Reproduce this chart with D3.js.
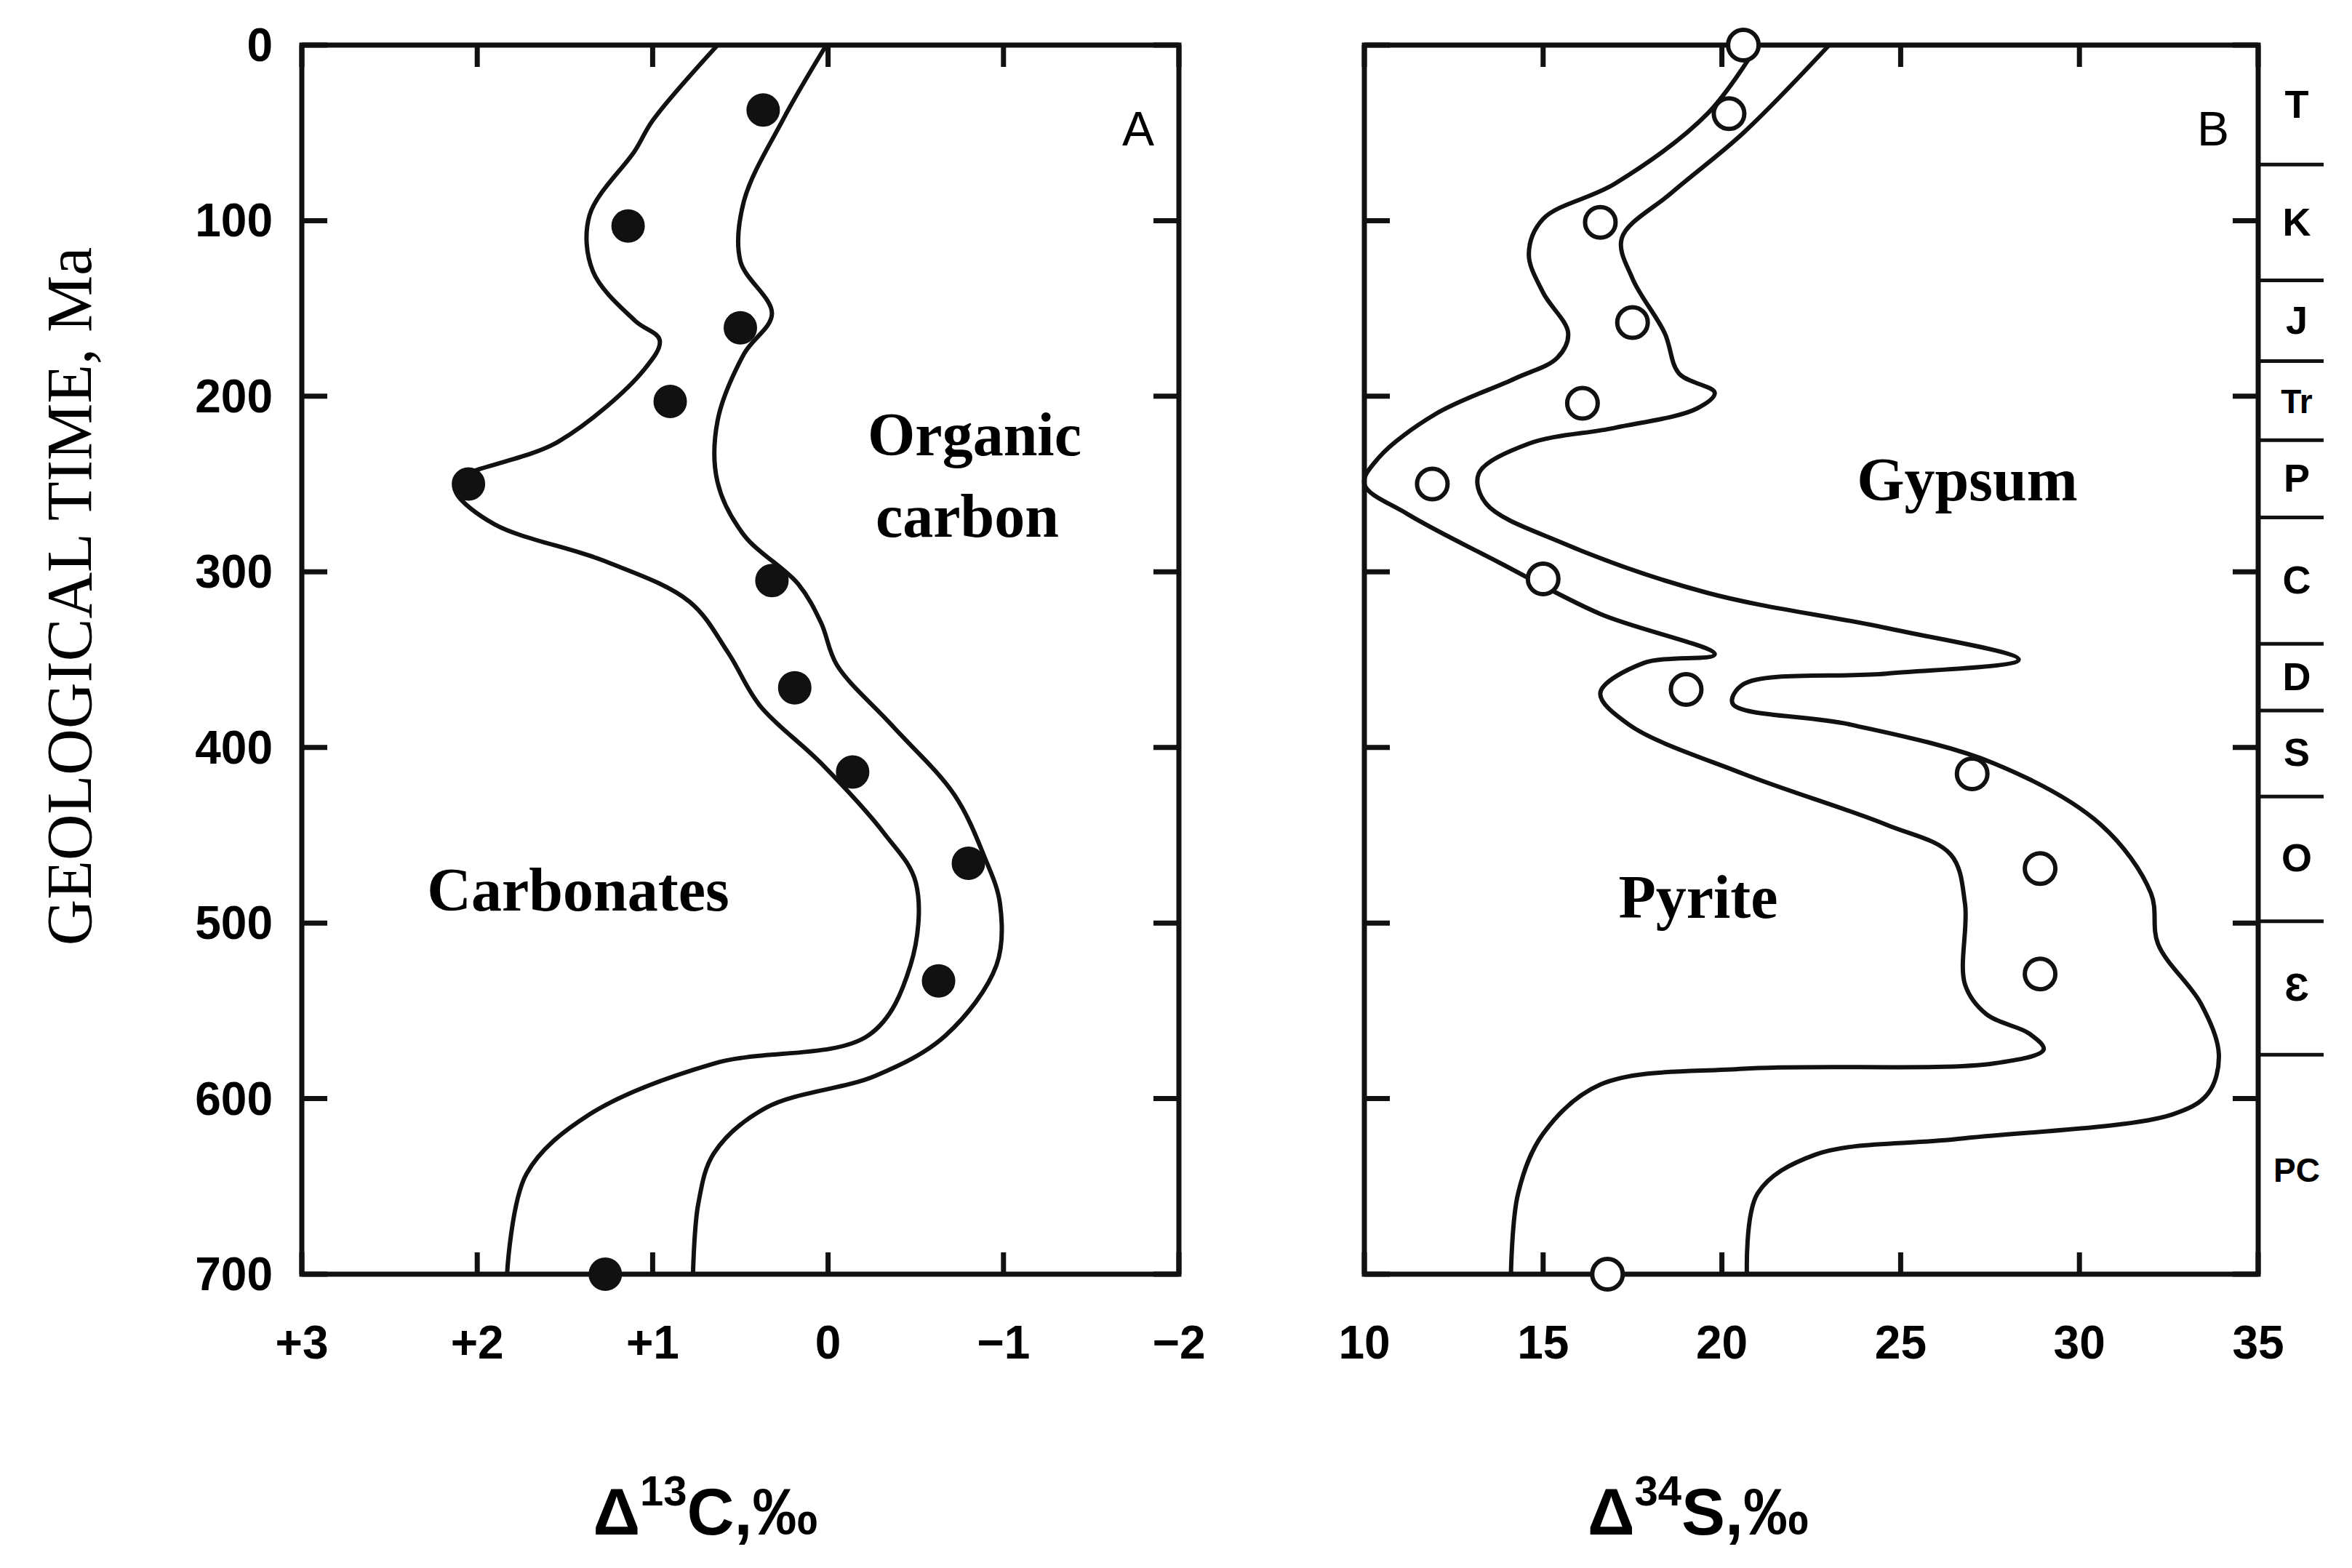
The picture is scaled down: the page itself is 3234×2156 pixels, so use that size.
<!DOCTYPE html>
<html><head><meta charset="utf-8">
<script src="https://cdn.jsdelivr.net/npm/d3@7"></script>
<style>body{margin:0;background:#fff}</style></head>
<body><svg id="c" width="3234" height="2156"></svg>
<script>
// Panel A: Δ13C curves [age Ma, value]
const carbonateCurve=[[0,0.63],[43,1.0],[60,1.10],[97,1.36],[129,1.34],[157,1.10],[168,0.96],[185,1.05],[226,1.54],[248,2.12],[255,2.12],[273,1.9],[294,1.27],[317,0.79],[346,0.57],[376,0.39],[409,0.04],[449,-0.32],[477,-0.5],[524,-0.47],[564,-0.23],[580,0.65],[609,1.36],[643,1.72],[700,1.83]];
const organicCurve=[[0,0.01],[43,0.26],[89,0.48],[123,0.5],[153,0.32],[176,0.48],[214,0.63],[249,0.63],[279,0.48],[307,0.17],[329,0.04],[353,-0.05],[387,-0.36],[427,-0.72],[462,-0.89],[489,-0.98],[524,-0.96],[564,-0.67],[587,-0.27],[605,0.35],[631,0.65],[660,0.74],[700,0.77]];
const carbonDots=[[37,0.37],[103,1.14],[161,0.5],[203,0.9],[250,2.05],[305,0.32],[366,0.19],[414,-0.14],[466,-0.8],[533,-0.63],[700,1.27]];
// Panel B: Δ34S curves
const gypsumCurve=[[0,23.0],[50,20.6],[84,18.6],[110,17.2],[133,17.5],[164,18.4],[187,18.8],[198,19.8],[207,19.3],[218,17.0],[227,14.6],[244,13.2],[261,13.4],[284,15.6],[312,19.6],[332,24.6],[350,28.3],[358,24.6],[364,20.6],[375,20.3],[387,23.6],[409,27.6],[444,30.6],[483,32.0],[512,32.2],[546,33.4],[575,33.9],[597,33.6],[609,32.6],[623,26.6],[632,22.6],[654,21.0],[700,20.7]];
const pyriteCurve=[[0,21.0],[39,19.6],[79,17.0],[99,15.0],[119,14.6],[141,15.0],[164,15.7],[178,15.4],[190,14.2],[210,12.0],[235,10.4],[250,10.0],[267,11.2],[295,13.8],[324,16.6],[347,19.8],[352,17.8],[369,16.6],[387,17.4],[415,20.6],[444,24.6],[461,26.4],[489,26.8],[535,26.8],[552,27.4],[563,28.6],[572,29.0],[580,27.6],[583,20.6],[592,16.6],[620,15.0],[654,14.3],[700,14.1]];
const sulfurDots=[[0,20.6],[39,20.2],[101,16.6],[158,17.5],[204,16.1],[250,11.9],[304,15.0],[367,19.0],[415,27.0],[469,28.9],[529,28.9],[700,16.8]];
const ageTicks=[0,100,200,300,400,500,600,700];
const cTicks=[3,2,1,0,-1,-2];
const cTickLabels=["+3","+2","+1","0","\u22121","\u22122"];
const sTicks=[10,15,20,25,30,35];
const periodBounds=[0,68,134,180,225,269,341,379,428,499,575];
const periodLabels=["T","K","J","Tr","P","C","D","S","O","\u0190","PC"];
const periodMid=[34,101,157,202,247,305,360,403,463,537,640];

const svg=d3.select("#c");
const topY=62,botY=1752;
const y=d3.scaleLinear().domain([0,700]).range([topY,botY]);
const xA=d3.scaleLinear().domain([3,-2]).range([415,1621]);
const xB=d3.scaleLinear().domain([10,35]).range([1876,3105]);
const sans="'Liberation Sans',Arial,sans-serif", serif="'Liberation Serif','Times New Roman',serif";

function panel(x,ticks,labels,curves,dots,filled,letter,lx){
  const [x0,x1]=x.range();
  svg.append("rect").attr("x",x0).attr("y",topY).attr("width",x1-x0).attr("height",botY-topY)
    .attr("fill","none").attr("stroke","#111").attr("stroke-width",7);
  const g=svg.append("g").attr("stroke","#111").attr("stroke-width",7);
  ticks.forEach(t=>{g.append("line").attr("x1",x(t)).attr("x2",x(t)).attr("y1",topY).attr("y2",topY+30);
    g.append("line").attr("x1",x(t)).attr("x2",x(t)).attr("y1",botY).attr("y2",botY-30);});
  ageTicks.forEach(a=>{g.append("line").attr("x1",x0).attr("x2",x0+35).attr("y1",y(a)).attr("y2",y(a));
    g.append("line").attr("x1",x1).attr("x2",x1-35).attr("y1",y(a)).attr("y2",y(a));});
  ticks.forEach((t,i)=>svg.append("text").attr("x",x(t)).attr("y",1868).attr("text-anchor","middle")
    .attr("font-family",sans).attr("font-weight","bold").attr("font-size",64).text(labels[i]));
  const line=d3.line().x(d=>x(d[1])).y(d=>y(d[0])).curve(d3.curveCatmullRom.alpha(0.5));
  curves.forEach(c=>svg.append("path").attr("d",line(c)).attr("fill","none").attr("stroke","#111").attr("stroke-width",6));
  dots.forEach(d=>svg.append("circle").attr("cx",x(d[1])).attr("cy",y(d[0])).attr("r",filled?22:21)
    .attr("fill",filled?"#111":"#fff").attr("stroke","#111").attr("stroke-width",filled?2:6));
  svg.append("text").attr("x",lx).attr("y",200).attr("text-anchor","middle").attr("font-family",sans)
    .attr("font-size",66).text(letter);
}
panel(xA,cTicks,cTickLabels,[carbonateCurve,organicCurve],carbonDots,true,"A",1565);
panel(xB,sTicks,sTicks.map(String),[gypsumCurve,pyriteCurve],sulfurDots,false,"B",3043);

ageTicks.forEach(a=>svg.append("text").attr("x",375).attr("y",y(a)+22).attr("text-anchor","end")
  .attr("font-family",sans).attr("font-weight","bold").attr("font-size",64).text(a));
svg.append("text").attr("transform","translate(125,820) rotate(-90)").attr("text-anchor","middle")
  .attr("font-family",serif).attr("font-size",88).text("GEOLOGICAL TIME, Ma");

const pg=svg.append("g").attr("stroke","#111").attr("stroke-width",5);
periodBounds.slice(1).forEach(b=>pg.append("line").attr("x1",3105).attr("x2",3195).attr("y1",y(b)).attr("y2",y(b)));
periodLabels.forEach((l,i)=>svg.append("text").attr("x",3158).attr("y",y(periodMid[i])+18).attr("text-anchor","middle")
  .attr("font-family",sans).attr("font-size",l.length>1?46:54).attr("font-weight","bold").text(l));

function lbl(t,x0,y0){svg.append("text").attr("x",x0).attr("y",y0).attr("text-anchor","middle")
  .attr("font-family",serif).attr("font-weight","bold").attr("font-size",84).text(t);}
lbl("Carbonates",795,1252);lbl("Organic",1340,626);lbl("carbon",1330,738);
lbl("Gypsum",2705,688);lbl("Pyrite",2335,1262);

function title(x0,sup,rest){const t=svg.append("text").attr("x",x0).attr("y",2110).attr("text-anchor","middle")
  .attr("font-family",sans).attr("font-weight","bold").attr("font-size",90);
  t.append("tspan").text("\u0394");t.append("tspan").attr("dy",-40).attr("font-size",58).text(sup);
  t.append("tspan").attr("dy",40).text(rest);}
title(970,"13","C,\u2030");title(2335,"34","S,\u2030");
</script></body></html>
